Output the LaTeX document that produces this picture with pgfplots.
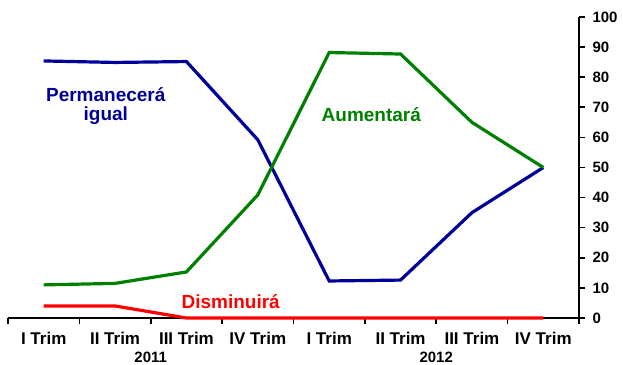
\documentclass[border=0pt]{standalone}
\usepackage{fontspec}
\setmainfont{Liberation Sans}
\usepackage{pgfplots}
\usepackage{pgfplotstable}
\pgfplotsset{compat=1.18}
\definecolor{navyline}{RGB}{0,0,153}
\definecolor{greenline}{RGB}{0,128,0}
\definecolor{redline}{RGB}{255,0,0}

% x: 0..7 = I Trim 2011 .. IV Trim 2012
\pgfplotstableread{
x  igual  aumenta  disminuye
0  85.4   11.0     4.0
1  84.9   11.5     4.0
2  85.2   15.3     0.0
3  59.2   40.9     0.0
4  12.3   88.2     0.0
5  12.6   87.7     0.0
6  35.0   65.0     0.0
7  50.0   50.0     0.0
}\datos

\begin{document}
\begin{tikzpicture}[x=1pt,y=1pt]
\begin{axis}[
    at={(8pt,46pt)}, anchor=south west,
    scale only axis, width=571pt, height=301pt,
    xmin=-0.5, xmax=7.5, ymin=0, ymax=100,
    axis x line*=bottom, axis y line*=right,
    axis line style={line width=1.6pt},
    xtick={0,...,7},
    xticklabels={I Trim, II Trim, III Trim, IV Trim, I Trim, II Trim, III Trim, IV Trim},
    major x tick style={draw=none},
    minor xtick={-0.5,0.5,...,7.5},
    minor x tick style={black,line width=1.6pt},
    minor tick length=6pt,
    ytick={0,10,...,100},
    major y tick style={black,line width=1.6pt},
    major tick length=6pt,
    tick align=outside,
    /pgf/number format/assume math mode=true,
    xticklabel style={font=\fontsize{17}{19}\selectfont\bfseries, yshift=-5pt},
    yticklabel style={font=\fontsize{15}{17}\selectfont\bfseries, xshift=4pt},
    clip=false,
]
\addplot[navyline, line width=3.2pt] table[x=x, y=igual] {\datos};
\addplot[greenline, line width=3.2pt] table[x=x, y=aumenta] {\datos};
\addplot[redline, line width=3.2pt] table[x=x, y=disminuye] {\datos};

\node[navyline, font=\fontsize{19}{19}\selectfont\bfseries, align=center]
    at (axis cs:0.87,70.4) {Permanecerá\\igual};
\node[greenline, font=\fontsize{19}{20}\selectfont\bfseries]
    at (axis cs:4.59,67.4) {Aumentará};
\node[redline, font=\fontsize{19}{20}\selectfont\bfseries]
    at (axis cs:2.62,5.6) {Disminuirá};

\node[font=\fontsize{15}{17}\selectfont\bfseries] at (axis cs:1.5,0) [yshift=-39pt] {2011};
\node[font=\fontsize{15}{17}\selectfont\bfseries] at (axis cs:5.5,0) [yshift=-39pt] {2012};
\end{axis}
\pgfresetboundingbox
\useasboundingbox (0,0) rectangle (623,364);
\end{tikzpicture}
\end{document}
